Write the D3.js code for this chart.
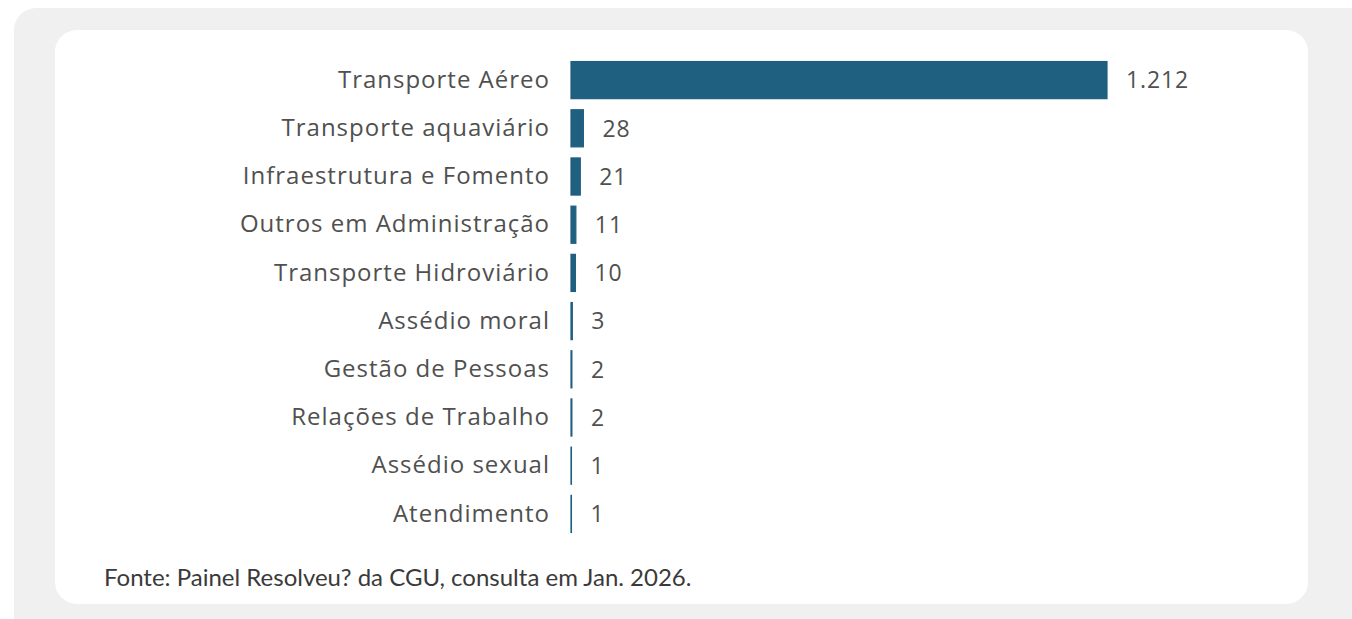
<!DOCTYPE html>
<html><head><meta charset="utf-8">
<script src="https://cdn.jsdelivr.net/npm/d3@7"></script>
<style>
html,body{margin:0;padding:0;background:#fff;}
svg{display:block;}
</style></head>
<body>
<svg id="chart" width="1352" height="619"></svg>
<script>
const categories = ["Transporte Aéreo","Transporte aquaviário","Infraestrutura e Fomento","Outros em Administração","Transporte Hidroviário","Assédio moral","Gestão de Pessoas","Relações de Trabalho","Assédio sexual","Atendimento"];
const values = [1212, 28, 21, 11, 10, 3, 2, 2, 1, 1];
const valueLabels = ["1.212","28","21","11","10","3","2","2","1","1"];
const sourceText = "Fonte: Painel Resolveu? da CGU, consulta em Jan. 2026.";

const svg = d3.select("#chart");
// outer grey panel
svg.append("rect").attr("x",14).attr("y",8).attr("width",1360).attr("height",640).attr("rx",22).attr("fill","#f0f0f0");
// white card
svg.append("rect").attr("x",55).attr("y",30).attr("width",1253).attr("height",574).attr("rx",22).attr("fill","#ffffff");

const x = d3.scaleLinear().domain([0, 1212]).range([571, 1107]);
const y = d3.scaleBand().domain(categories).range([56, 538]).paddingInner(0.23).paddingOuter(0.115);

const color = "#1f6080";
const g = svg.append("g");
g.selectAll("rect.bar").data(values).join("rect").attr("class","bar")
  .attr("x", x(0))
  .attr("y", (d,i)=>y(categories[i]))
  .attr("width", d=>x(d)-x(0))
  .attr("height", y.bandwidth())
  .attr("fill", color).attr("stroke", color).attr("stroke-width", 1.2);

const yAxis = d3.axisLeft(y).tickSize(0).tickPadding(0);
const ax = svg.append("g").attr("transform","translate(550,0)").call(yAxis);
ax.select(".domain").remove();
ax.selectAll("text").attr("font-family","'Open Sans', sans-serif").attr("font-size",24).attr("fill","#505050").attr("letter-spacing","1");

g.selectAll("text.val").data(values).join("text").attr("class","val")
  .attr("x", d=>x(d)+19)
  .attr("y", (d,i)=>y(categories[i])+y.bandwidth()/2)
  .attr("dy","0.36em")
  .attr("font-family","'Open Sans', sans-serif").attr("font-size",23).attr("fill","#505050").attr("letter-spacing","0.9")
  .text((d,i)=>valueLabels[i]);

svg.append("text").attr("x",104).attr("y",586)
  .attr("font-family","Lato, sans-serif").attr("font-size",24).attr("fill","#3a3a3a").attr("letter-spacing","0")
  .text(sourceText);
</script>
</body></html>
